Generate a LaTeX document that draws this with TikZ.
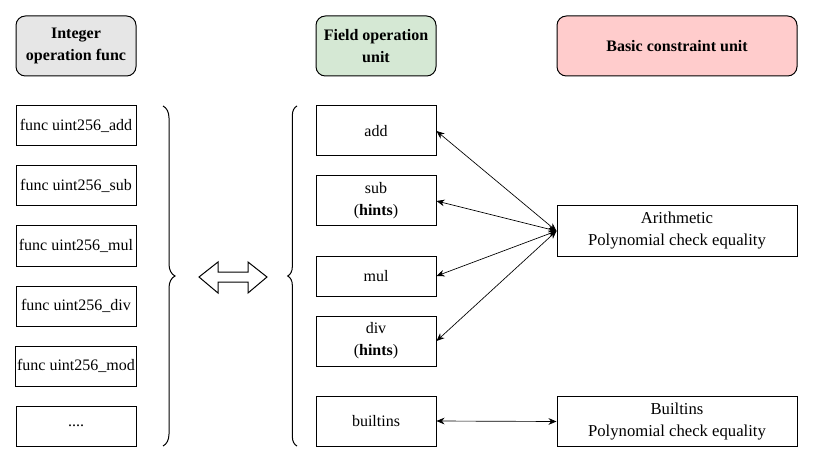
\documentclass[tikz,border=0pt]{standalone}
\usepackage{fontspec}
\setmainfont{Liberation Serif}
\usetikzlibrary{decorations.pathreplacing}
\usetikzlibrary{arrows.meta}
\definecolor{intgray}{HTML}{E6E6E6}
\definecolor{fieldgreen}{HTML}{D5E8D4}
\definecolor{constrred}{HTML}{FFCCCC}
\tikzset{
	unitbox/.style={draw, line width=0.75pt, minimum width=90pt, minimum height=30pt, inner sep=1pt, align=center, font=\fontsize{12}{16.5}\selectfont},
	titlebox/.style={unitbox, rounded corners=7pt, minimum height=45pt, font=\fontsize{12}{16.5}\selectfont\bfseries},
	link/.style={{Stealth[length=6pt,width=5pt]}-{Stealth[length=6pt,width=5pt]}, line width=0.5pt},
}
\newcommand{\sidebrace}[4] % x, top, bottom, amplitude in pt
{
	\draw[line width=0.75pt, decorate, decoration={brace, amplitude=#4pt}] (#1,#2) -- (#1,#3);
}
\begin{document}
\begin{tikzpicture}[x=0.75pt, y=-0.75pt]
	% canvas in px: 813 x 463, y pointing down
	\useasboundingbox (0,0) rectangle (813,463);

	% column titles
	\node[titlebox, fill=intgray] (inttitle) at (76,46) {Integer\\operation func};
	\node[titlebox, fill=fieldgreen] (fieldtitle) at (376,46) {Field operation\\unit};
	\node[titlebox, fill=constrred, minimum width=180pt] (constrtitle) at (677,46) {Basic constraint unit};

	% integer operation funcs
	\node[unitbox] (fadd) at (76,126) {func uint256\_add};
	\node[unitbox] (fsub) at (76,186) {func uint256\_sub};
	\node[unitbox] (fmul) at (76,246) {func uint256\_mul};
	\node[unitbox] (fdiv) at (76,306) {func uint256\_div};
	\node[unitbox] (fmod) at (76,366) {func uint256\_mod};
	\node[unitbox] (fmore) at (76,426) {....};

	% field operation units
	\node[unitbox, minimum height=37.5pt] (add) at (376,131) {add};
	\node[unitbox, minimum height=37.5pt] (sub) at (376,201) {sub\\(\textbf{hints})};
	\node[unitbox] (mul) at (376,276) {mul};
	\node[unitbox, minimum height=37.5pt] (div) at (376,341) {div\\(\textbf{hints})};
	\node[unitbox, minimum height=37.5pt] (builtins) at (376,421) {builtins};

	% basic constraint units
	\node[unitbox, minimum width=180pt, minimum height=37.5pt, font=\fontsize{12.5}{16.5}\selectfont] (arith) at (677,231) {Arithmetic\\Polynomial check equality};
	\node[unitbox, minimum width=180pt, minimum height=37.5pt, font=\fontsize{12.5}{16.5}\selectfont] (polybuiltins) at (677,421.5) {Builtins\\Polynomial check equality};

	% braces
	\sidebrace{163}{106}{446}{9};
	\sidebrace{297}{446}{106}{7};

	% hollow double arrow
	\draw[line width=0.75pt, line join=miter] (199,277) -- (218,262) -- (218,272) -- (248,272) -- (248,262) -- (267,277) -- (248,293) -- (248,282) -- (218,282) -- (218,293) -- cycle;

	% links
	\draw[link] (add.east) -- (arith.west);
	\draw[link] (sub.east) -- (arith.west);
	\draw[link] (mul.east) -- (arith.west);
	\draw[link] (div.east) -- (arith.west);
	\draw[link] (builtins.east) -- (polybuiltins.west);
\end{tikzpicture}
\end{document}
